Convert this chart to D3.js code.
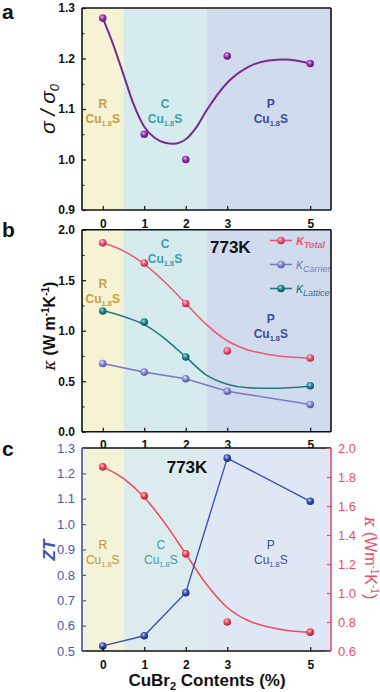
<!DOCTYPE html>
<html><head><meta charset="utf-8">
<script src="https://cdn.jsdelivr.net/npm/d3@7"></script>
<style>body{margin:0;background:#fff}svg{display:block}text{font-family:Arial,"Liberation Sans",sans-serif}</style>
</head><body><svg id="c" width="380" height="692"></svg>
<script>
// ---- data ----
const xCats = [0, 1, 2, 3, 5];
const xTickLabels = ["0", "1", "2", "3", "5"];
const sigmaRatio = [1.28, 1.05, 1.0, 1.205, 1.19];
const sigmaFitX = [0, 0.25, 0.5, 0.75, 1, 1.25, 1.5, 1.7, 2, 2.25, 2.5, 3, 3.5, 4, 4.4, 5];
const sigmaFitY = [1.28, 1.228, 1.168, 1.108, 1.065, 1.043, 1.033, 1.031, 1.04, 1.063, 1.097, 1.152, 1.183, 1.196, 1.198, 1.19];
const kTotal = [1.87, 1.67, 1.27, 0.80, 0.73];
const kCarrier = [0.675, 0.59, 0.525, 0.40, 0.27];
const latticeX = [0, 1, 2, 5];
const latticeY = [1.195, 1.085, 0.74, 0.455];
const fitX = [0, 0.5, 1, 1.5, 2, 2.5, 3, 3.5, 4, 4.5, 5];
const kTotalFit = [1.87, 1.79, 1.66, 1.48, 1.27, 1.06, 0.90, 0.81, 0.765, 0.74, 0.73];
const kLatticeFit = [1.2, 1.14, 1.06, 0.92, 0.74, 0.56, 0.47, 0.435, 0.43, 0.435, 0.45];
const zt = [0.52, 0.56, 0.73, 1.26, 1.09];
const regionNames = ["R", "C", "P"];
const regionBounds = [[-0.5, 0.5], [0.5, 2.5], [2.5, 5.5]];
const regionLabelX = [0, 1.5, 4.05];
const ticksA = [0.9, 1.0, 1.1, 1.2, 1.3];
const ticksB = [0.0, 0.5, 1.0, 1.5, 2.0];
const ticksCL = [0.5, 0.6, 0.7, 0.8, 0.9, 1.0, 1.1, 1.2, 1.3];
const ticksCR = [0.6, 0.8, 1.0, 1.2, 1.4, 1.6, 1.8, 2.0];
const legendNames = ["Total", "Carrier", "Lattice"];

const svg = d3.select("#c");
const X0 = 82, X1 = 331;
const x = d3.scaleLinear().domain([-0.5, 5.5]).range([X0, X1]);

const defs = svg.append("defs");
function sphere(id, light, base, dark) {
  const g = defs.append("radialGradient").attr("id", id).attr("cx", "40%").attr("cy", "35%").attr("r", "65%");
  g.append("stop").attr("offset", "0%").attr("stop-color", light);
  g.append("stop").attr("offset", "45%").attr("stop-color", base);
  g.append("stop").attr("offset", "100%").attr("stop-color", dark);
}
sphere("gPurple", "#e9b8f0", "#9a35b4", "#5e1670");
sphere("gPink", "#ffd0da", "#ec5a78", "#b02845");
sphere("gLav", "#e6e6ff", "#8a8ad6", "#51529a");
sphere("gTeal", "#a8e2e4", "#24878f", "#0e5258");
sphere("gBlue", "#c9d3ff", "#3d52b0", "#1d2a70");
sphere("gRed", "#ffc8cf", "#ee4c62", "#b01e35");

const regionColorsA = ["#f5f3d3", "#d5ebee", "#d1dbee"];
const regionColorsC = ["#f4f3d8", "#dcecee", "#e0e7f4"];
const labelColors = ["#c6a03a", "#38a0a8", "#3a4d9c"];

function panelBg(y, colors) {
  const [t, b] = y.range().slice().sort((a, c) => a - c);
  regionBounds.forEach((r, i) => {
    svg.append("rect").attr("x", x(r[0])).attr("y", t).attr("width", x(r[1]) - x(r[0])).attr("height", b - t).attr("fill", colors[i]);
  });
}
function cuLabel(px, py, col, bold, size) {
  const t = svg.append("text").attr("x", px).attr("y", py).attr("text-anchor", "middle").attr("font-size", size).attr("font-weight", bold ? "bold" : "normal").attr("fill", col);
  t.append("tspan").text("Cu");
  t.append("tspan").attr("font-size", size * 0.62).attr("dy", 3).text("1.8");
  t.append("tspan").attr("dy", -3).text("S");
}
function region(i, px, py, col, bold) {
  svg.append("text").attr("x", px).attr("y", py).attr("text-anchor", "middle").attr("font-size", 12).attr("font-weight", bold ? "bold" : "normal").attr("fill", col).text(regionNames[i]);
  cuLabel(px, py + 15, col, bold, 12);
}
function frame(y, colL, colR) {
  const [t, b] = y.range().slice().sort((a, c) => a - c);
  svg.append("line").attr("x1", X0).attr("x2", X1).attr("y1", t).attr("y2", t).attr("stroke", "#111").attr("stroke-width", 1.6);
  svg.append("line").attr("x1", X0).attr("x2", X1).attr("y1", b).attr("y2", b).attr("stroke", "#111").attr("stroke-width", 1.6);
  svg.append("line").attr("x1", X0).attr("x2", X0).attr("y1", t).attr("y2", b).attr("stroke", colL).attr("stroke-width", 1.6);
  svg.append("line").attr("x1", X1).attr("x2", X1).attr("y1", t).attr("y2", b).attr("stroke", colR).attr("stroke-width", 1.6);
}
function xAxis(b, labelY) {
  const g = svg.append("g").attr("transform", `translate(0,${b})`);
  g.call(d3.axisBottom(x).tickValues(xCats).tickFormat((d, i) => xTickLabels[i]).tickSizeInner(-4).tickSizeOuter(0));
  g.select(".domain").remove();
  g.selectAll("line").attr("stroke", "#111").attr("stroke-width", 1.2);
  g.selectAll("text").attr("font-size", 12).attr("font-weight", "bold").attr("fill", "#111").attr("y", labelY).attr("font-family", "Arial");
}
function yAxisLeft(y, ticks, fmt, color, bold, size, minor) {
  const g = svg.append("g").attr("transform", `translate(${X0},0)`);
  g.call(d3.axisLeft(y).tickValues(ticks).tickFormat(fmt).tickSizeInner(-4).tickSizeOuter(0).tickPadding(7));
  g.select(".domain").remove();
  g.selectAll("line").attr("stroke", color).attr("stroke-width", 1.2);
  g.selectAll("text").attr("font-size", size).attr("font-weight", bold ? "bold" : "normal").attr("fill", color).attr("font-family", "Arial");
  if (minor) {
    const m = svg.append("g").attr("transform", `translate(${X0},0)`);
    m.call(d3.axisLeft(y).tickValues(minor).tickFormat("").tickSizeInner(-2.5).tickSizeOuter(0));
    m.select(".domain").remove();
    m.selectAll("line").attr("stroke", color);
  }
}
function dots(xs, ys, y, grad, r) {
  svg.append("g").selectAll("circle").data(xs).join("circle")
    .attr("cx", d => x(d)).attr("cy", (d, i) => y(ys[i])).attr("r", r).attr("fill", `url(#${grad})`);
}
function curve(xs, ys, y, color, w, c) {
  svg.append("path").datum(xs).attr("fill", "none").attr("stroke", color).attr("stroke-width", w)
    .attr("d", d3.line().x(d => x(d)).y((d, i) => y(ys[i])).curve(c || d3.curveMonotoneX));
}
function panelLetter(t, yy) {
  svg.append("text").attr("x", 2).attr("y", yy).attr("font-size", 21).attr("font-weight", "bold").attr("fill", "#111").text(t);
}

// ---------- Panel a ----------
const yA = d3.scaleLinear().domain([0.9, 1.3]).range([210, 8]);
panelBg(yA, regionColorsA);
regionNames.forEach((n, i) => region(i, x(regionLabelX[i]), 108, labelColors[i], true));
curve(sigmaFitX, sigmaFitY, yA, "#7a2a90", 2);
dots(xCats, sigmaRatio, yA, "gPurple", 3.8);
frame(yA, "#111", "#111");
xAxis(210, 9);
yAxisLeft(yA, ticksA, d3.format(".1f"), "#111", true, 12, [0.95, 1.05, 1.15, 1.25]);
const la = svg.append("text").attr("transform", "translate(55,109) rotate(-90)").attr("text-anchor", "middle").attr("font-size", 21).attr("font-style", "italic").attr("font-family", "'DejaVu Serif',serif").attr("fill", "#111");
la.append("tspan").text("σ / σ");
la.append("tspan").attr("font-size", 13).attr("dy", 4).text("0");
panelLetter("a", 19);

// ---------- Panel b ----------
const yB = d3.scaleLinear().domain([0, 2.0]).range([431.7, 229.7]);
panelBg(yB, regionColorsA);
region(0, x(0), 288, labelColors[0], true);
region(1, x(1.5), 248, labelColors[1], true);
region(2, x(4.05), 323, labelColors[2], true);
curve(fitX, kTotalFit, yB, "#ec5a78", 1.6);
curve(fitX, kLatticeFit, yB, "#1f7a82", 1.6);
curve(xCats, kCarrier, yB, "#7c7cc6", 1.6, d3.curveLinear);
dots(xCats, kTotal, yB, "gPink", 3.8);
dots(latticeX, latticeY, yB, "gTeal", 3.8);
dots(xCats, kCarrier, yB, "gLav", 3.8);
svg.append("text").attr("x", 210).attr("y", 253).attr("font-size", 17).attr("font-weight", "bold").attr("fill", "#111").text("773K");
const legCols = ["#ec5a78", "#7c7cc6", "#1f7a82"];
const legGrads = ["gPink", "gLav", "gTeal"];
legendNames.forEach((n, i) => {
  const ly = 240.5 + i * 24;
  svg.append("line").attr("x1", 270).attr("x2", 292).attr("y1", ly).attr("y2", ly).attr("stroke", legCols[i]).attr("stroke-width", 1.6);
  svg.append("circle").attr("cx", 281).attr("cy", ly).attr("r", 3.8).attr("fill", `url(#${legGrads[i]})`);
  const t = svg.append("text").attr("x", 296).attr("y", ly + 4).attr("fill", legCols[i]).attr("font-style", "italic").attr("font-size", 14).attr("font-weight", i === 0 ? "bold" : "normal");
  t.append("tspan").text("κ");
  t.append("tspan").attr("font-size", 9).attr("dy", 3).text(n);
});
frame(yB, "#111", "#111");
xAxis(431.7, 9);
yAxisLeft(yB, ticksB, d3.format(".1f"), "#111", true, 12, [0.25, 0.75, 1.25, 1.75]);
const lb = svg.append("text").attr("transform", "translate(55,326) rotate(-90)").attr("text-anchor", "middle").attr("font-size", 16).attr("font-weight", "bold").attr("fill", "#111");
lb.append("tspan").attr("font-style", "italic").attr("font-family", "'DejaVu Serif',serif").attr("font-weight", "normal").text("κ");
lb.append("tspan").text(" (W m");
lb.append("tspan").attr("font-size", 10).attr("dy", -6).text("-1");
lb.append("tspan").attr("dy", 6).text("K");
lb.append("tspan").attr("font-size", 10).attr("dy", -6).text("-1");
lb.append("tspan").attr("dy", 6).text(")");
panelLetter("b", 237);

// ---------- Panel c ----------
const yCL = d3.scaleLinear().domain([0.5, 1.3]).range([651, 448]);
const yCR = d3.scaleLinear().domain([0.6, 2.0]).range([651, 448]);
panelBg(yCL, regionColorsC);
region(0, x(0), 549, "#b89838", false);
region(1, x(1.4), 549, "#3d9aa2", false);
region(2, x(4.05), 549, "#3a4d9c", false);
curve(fitX, kTotalFit, yCR, "#ee4c62", 1.6);
curve(xCats, zt, yCL, "#3d52b0", 1.4, d3.curveLinear);
dots(xCats, kTotal, yCR, "gRed", 3.8);
dots(xCats, zt, yCL, "gBlue", 3.8);
svg.append("text").attr("x", 187).attr("y", 473).attr("text-anchor", "middle").attr("font-size", 17).attr("font-weight", "bold").attr("fill", "#111").text("773K");
frame(yCL, "#3d52b0", "#ee4c62");
xAxis(651, 9);
yAxisLeft(yCL, ticksCL, d3.format(".1f"), "#4a5aa8", false, 13, null);
const gR = svg.append("g").attr("transform", `translate(${X1},0)`);
gR.call(d3.axisRight(yCR).tickValues(ticksCR).tickFormat(d3.format(".1f")).tickSizeInner(-4).tickSizeOuter(0).tickPadding(7));
gR.select(".domain").remove();
gR.selectAll("line").attr("stroke", "#ee4c62").attr("stroke-width", 1.2);
gR.selectAll("text").attr("font-size", 13).attr("fill", "#ee4c62").attr("font-family", "Arial");
svg.append("text").attr("transform", "translate(55,550) rotate(-90)").attr("text-anchor", "middle").attr("font-size", 17).attr("font-weight", "bold").attr("font-style", "italic").attr("fill", "#3d52b0").text("ZT");
const lr = svg.append("text").attr("transform", "translate(365,558) rotate(90)").attr("text-anchor", "middle").attr("font-size", 16).attr("fill", "#ee4c62");
lr.append("tspan").attr("font-style", "italic").attr("font-family", "'DejaVu Serif',serif").text("κ");
lr.append("tspan").text(" (Wm");
lr.append("tspan").attr("font-size", 10).attr("dy", -6).text("-1");
lr.append("tspan").attr("dy", 6).text("K");
lr.append("tspan").attr("font-size", 10).attr("dy", -6).text("-1");
lr.append("tspan").attr("dy", 6).text(")");
const xt = svg.append("text").attr("x", 207).attr("y", 686).attr("text-anchor", "middle").attr("font-size", 17).attr("font-weight", "bold").attr("fill", "#111");
xt.append("tspan").text("CuBr");
xt.append("tspan").attr("font-size", 11).attr("dy", 4).text("2");
xt.append("tspan").attr("dy", -4).text(" Contents (%)");
panelLetter("c", 456);
</script></body></html>
